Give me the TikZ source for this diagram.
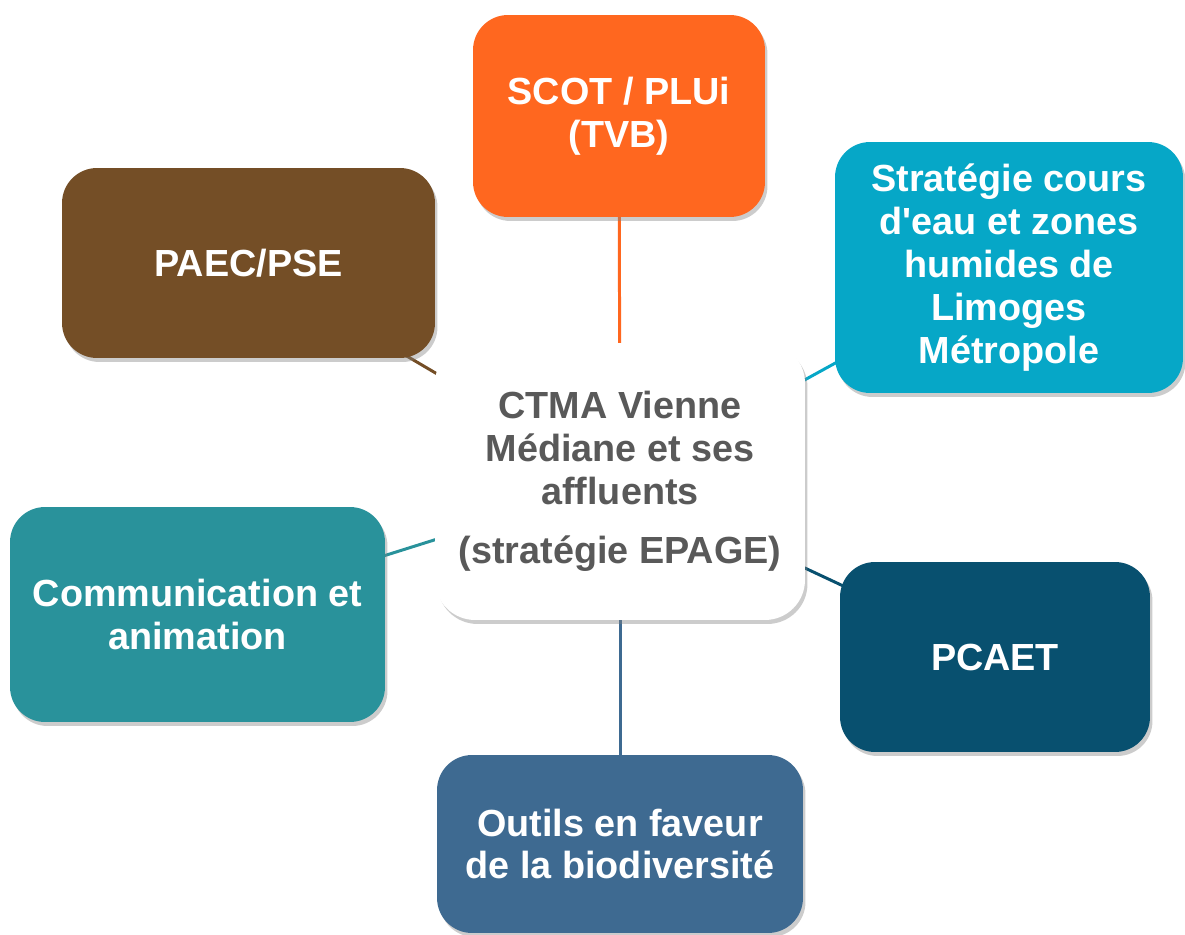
\documentclass[tikz,border=0pt]{standalone}
\usepackage{fontspec}
\setmainfont{Liberation Sans}
\usepackage{tikz}
\usepackage{xcolor}
\usetikzlibrary{shadows}
\usetikzlibrary{backgrounds}

\definecolor{scotorange}{HTML}{FF671F}
\definecolor{eaucyan}{HTML}{06A7C7}
\definecolor{paecbrown}{HTML}{744E26}
\definecolor{commteal}{HTML}{29929B}
\definecolor{pcaetblue}{HTML}{08506F}
\definecolor{outilsblue}{HTML}{3E6A91}
\definecolor{ctmagray}{HTML}{595959}

\tikzset{
  box/.style={rounded corners=0.7cm, align=center, text=white,
    font=\fontsize{21.5}{24.4}\selectfont\bfseries,
    drop shadow={shadow xshift=0.05cm, shadow yshift=-0.08cm, opacity=0.4}},
  link/.style={line width=1.7pt}
}

\begin{document}
\begin{tikzpicture}[x=0.02cm,y=-0.02cm]
            \useasboundingbox (0,0) rectangle (1185,935);
            % central box
            \node[box, fill=white, text=ctmagray, minimum width=7.4cm, minimum height=5.54cm, rounded corners=0.8cm] (ctma) at (620,481.5) {CTMA Vienne\\M\'ediane et ses\\affluents\\[0.34cm](strat\'egie EPAGE)};
            % satellites
            \node[box, fill=scotorange, minimum width=5.84cm, minimum height=4.04cm] (scot) at (619,116) {SCOT / PLUi\\(TVB)};
            \node[box, fill=eaucyan, minimum width=6.96cm, minimum height=5.02cm] (eau) at (1009,267.5) {Strat\'egie cours\\d\textquotesingle eau et zones\\humides de\\Limoges\\M\'etropole};
            \node[box, fill=paecbrown, minimum width=7.46cm, minimum height=3.8cm] (paec) at (248.5,263) {PAEC/PSE};
            \node[box, fill=commteal, minimum width=7.5cm, minimum height=4.3cm] (comm) at (197.5,614.5) {Communication et\\animation};
            \node[box, fill=pcaetblue, minimum width=6.2cm, minimum height=3.8cm] (pcaet) at (995,657) {PCAET};
            \node[box, fill=outilsblue, minimum width=7.32cm, minimum height=3.56cm] (outils) at (620,844) {Outils en faveur\\de la biodiversit\'e};
            % links behind the boxes
            \begin{scope}[on background layer]
            \draw[link,scotorange] (scot.center) -- (ctma.center);
            \draw[link,eaucyan] (eau.center) -- (ctma.center);
            \draw[link,paecbrown] (paec.center) -- (ctma.center);
            \draw[link,commteal] (comm.center) -- (ctma.center);
            \draw[link,pcaetblue] (pcaet.center) -- (ctma.center);
            \draw[link,outilsblue] (outils.center) -- (ctma.center);
            \end{scope}
        \end{tikzpicture}
\end{document}
